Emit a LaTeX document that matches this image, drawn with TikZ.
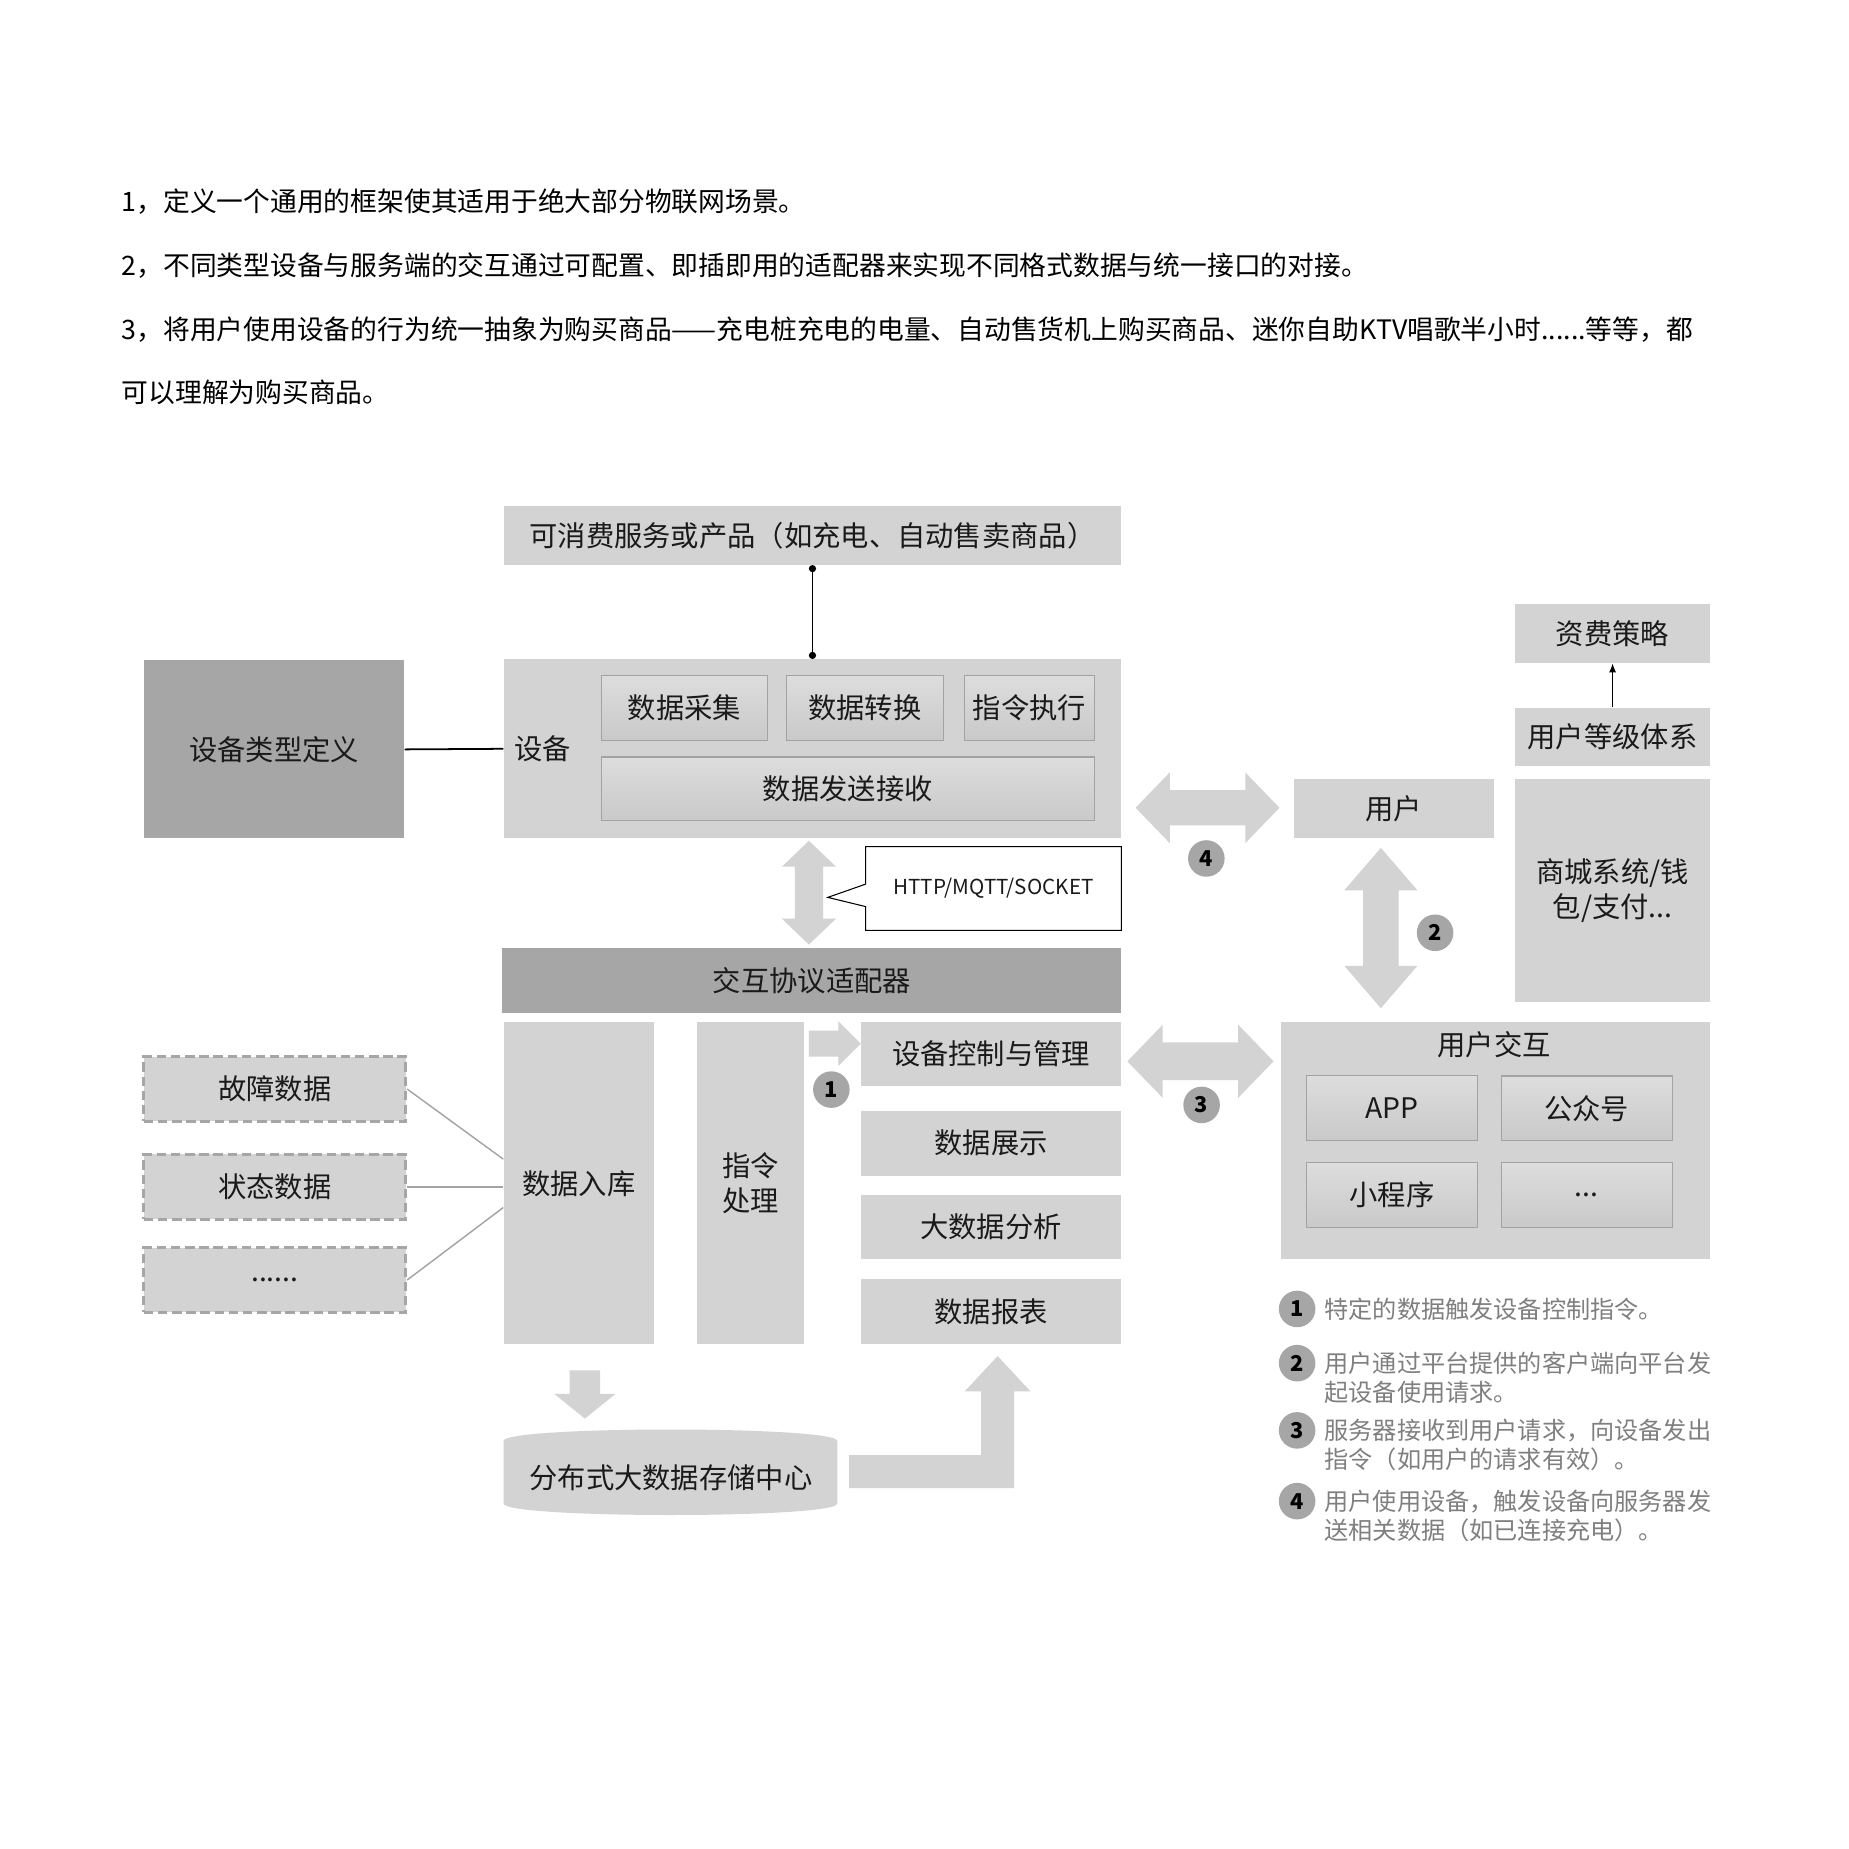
\documentclass[tikz,border=0pt]{standalone}
\usepackage{fontspec}
\setmainfont{Noto Sans CJK SC}
\definecolor{GrisBoite}{HTML}{D3D3D3}
\definecolor{GrisFonce}{HTML}{A6A6A6}
\definecolor{GrisTrait}{HTML}{A3A3A3}
\definecolor{GrisHaut}{HTML}{DDDDDD}
\definecolor{GrisBas}{HTML}{C9C9C9}
\definecolor{GrisLegende}{HTML}{7F7F7F}
\definecolor{NoirTexte}{HTML}{1A1A1A}
\usetikzlibrary{positioning}
\usetikzlibrary{calc}
\usetikzlibrary{arrows.meta}
\usetikzlibrary{shapes.callouts}

\begin{document}
\begin{tikzpicture}
	[x=1pt, y=-1pt,
	every node/.style = {inner sep=0pt, align=center, text=NoirTexte,
		font=\fontsize{24}{29.5}\selectfont},
	box/.style = {rectangle, fill=GrisBoite},
	darkbox/.style = {rectangle, fill=GrisFonce},
	subbox/.style = {rectangle, top color=GrisHaut, bottom color=GrisBas, draw=GrisTrait, line width=1},
	dashbox/.style = {rectangle, fill=GrisBoite, draw=GrisFonce, line width=2.5, dash pattern=on 8pt off 4pt},
	badge/.style = {circle, fill=GrisFonce, minimum size=31, text=black,
		font=\fontsize{18.5}{18.5}\selectfont\bfseries},
	legend/.style = {align=left, text=GrisLegende, font=\fontsize{20.5}{24.5}\selectfont},
	fatarrow/.style = {fill=GrisBoite}]
	\useasboundingbox (0,0) rectangle (1568,1568);
	\fill[white] (0,0) rectangle (1568,1568);

	\node[anchor=north west, align=left, text=black, font=\fontsize{22.7}{54}\selectfont] (intro) at (103,160)
	{1，定义一个通用的框架使其适用于绝大部分物联网场景。\\
	 2，不同类型设备与服务端的交互通过可配置、即插即用的适配器来实现不同格式数据与统一接口的对接。\\
	 3，将用户使用设备的行为统一抽象为购买商品——充电桩充电的电量、自动售货机上购买商品、迷你自助KTV唱歌半小时......等等，都\\
	 可以理解为购买商品。};

	% fat arrows
	\fill[fatarrow] (686,713) -- (709,735) -- (698,735) -- (698,779) -- (709,779) -- (686,801)
		-- (663,779) -- (674,779) -- (674,735) -- (663,735) -- cycle;
	\fill[fatarrow] (963,685) -- (992,655) -- (992,670) -- (1056,670) -- (1056,655) -- (1085,685)
		-- (1056,715) -- (1056,700) -- (992,700) -- (992,715) -- cycle;
	\fill[fatarrow] (956,900) -- (986,869) -- (986,884) -- (1050,884) -- (1050,869) -- (1080,900)
		-- (1050,931) -- (1050,916) -- (986,916) -- (986,931) -- cycle;
	\fill[fatarrow] (1171,719) -- (1202,755) -- (1186,755) -- (1186,819) -- (1202,819) -- (1171,855)
		-- (1140,819) -- (1156,819) -- (1156,755) -- (1140,755) -- cycle;
	\fill[fatarrow] (686,874) -- (711,874) -- (711,866) -- (730,885) -- (711,904) -- (711,896) -- (686,896) -- cycle;
	\fill[fatarrow] (483,1162) -- (509,1162) -- (509,1182) -- (522,1182) -- (496,1203) -- (470,1182) -- (483,1182) -- cycle;
	\fill[fatarrow] (720,1234) -- (832,1234) -- (832,1180) -- (818,1180) -- (846,1150) -- (874,1180)
		-- (860,1180) -- (860,1262) -- (720,1262) -- cycle;

	% device side
	\node[box, minimum width=524, minimum height=50] (prod) at (689,454) {可消费服务或产品（如充电、自动售卖商品）};
	\node[box, minimum width=524, minimum height=152] (dev) at (689,635) {};
	\node (devlabel) at (460,635) {设备};
	\node[subbox, minimum width=141, minimum height=55] (collect) at (580.5,600.5) {数据采集};
	\node[subbox, minimum width=133, minimum height=55] (convert) at (733.5,600.5) {数据转换};
	\node[subbox, minimum width=110, minimum height=55] (exec) at (873,600.5) {指令执行};
	\node[subbox, minimum width=418, minimum height=54] (sendrecv) at (719,669) {数据发送接收};
	\node[darkbox, minimum width=221, minimum height=151] (typedef) at (232.5,635.5) {设备类型定义};
	\draw[{Circle[length=6pt]}-{Circle[length=6pt]}, line width=1.6] (prod.south) -- (dev.north);
	\draw[line width=1.5] (typedef.east) -- (dev.west);

	\node[rectangle callout, draw=black, fill=white, line width=0.9, minimum width=217, minimum height=71,
		callout absolute pointer={(702,761)}, callout pointer width=19,
		font=\fontsize{17.5}{21}\selectfont] (proto) at (842.5,753.5) {HTTP/MQTT/SOCKET};

	% server side
	\node[darkbox, minimum width=525, minimum height=55] (adapter) at (688.5,831.5) {交互协议适配器};
	\node[box, minimum width=128, minimum height=273] (entry) at (491,1003.5) {数据入库};
	\node[box, minimum width=91, minimum height=273] (cmd) at (636.5,1003.5) {指令\\处理};
	\node[box, minimum width=221, minimum height=54] (ctrl) at (840.5,894) {设备控制与管理};
	\node[box, minimum width=221, minimum height=55] (show) at (840.5,969.5) {数据展示};
	\node[box, minimum width=221, minimum height=55] (analysis) at (840.5,1040.5) {大数据分析};
	\node[box, minimum width=221, minimum height=55] (report) at (840.5,1112.5) {数据报表};

	\node[dashbox, minimum width=222, minimum height=55] (fault) at (233,923.5) {故障数据};
	\node[dashbox, minimum width=222, minimum height=55] (status) at (233,1006.5) {状态数据};
	\node[dashbox, minimum width=222, minimum height=55] (more) at (233,1085.5) {......};
	\draw[GrisTrait, line width=1.2] (fault.east) -- ([yshift=20.5pt]entry.west);
	\draw[GrisTrait, line width=1.2] (status.east) -- (status.east -| entry.west);
	\draw[GrisTrait, line width=1.2] (more.east) -- ([yshift=-20.5pt]entry.west);

	\fill[GrisBoite] (427,1222) .. controls (427,1209) and (710,1209) .. (710,1222) -- (710,1275)
		.. controls (710,1288) and (427,1288) .. (427,1275) -- cycle;
	\node (storage) at (569,1253) {分布式大数据存储中心};

	% user side
	\node[box, minimum width=165, minimum height=50] (tariff) at (1367.5,537) {资费策略};
	\node[box, minimum width=165, minimum height=50] (level) at (1367.5,625) {用户等级体系};
	\node[box, minimum width=165, minimum height=189] (mall) at (1367.5,755.5) {商城系统/钱\\包/支付...};
	\draw[-{Latex[length=8pt,width=6pt]}, line width=1.5] (level.north) -- (tariff.south);
	\node[box, minimum width=170, minimum height=50] (user) at (1182,686) {用户};
	\node[box, minimum width=364, minimum height=201] (ui) at (1268,967.5) {};
	\node (uititle) at (1267,886) {用户交互};
	\node[subbox, minimum width=145, minimum height=55] (app) at (1180.5,939.5) {APP};
	\node[subbox, minimum width=145, minimum height=55] (wechat) at (1345.5,940) {公众号};
	\node[subbox, minimum width=145, minimum height=55] (mini) at (1180.5,1013.5) {小程序};
	\node[subbox, minimum width=145, minimum height=55] (etc) at (1345.5,1013.5) {...};

	\node[badge] (b1) at (705,924) {1};
	\node[badge] (b2) at (1217,791) {2};
	\node[badge] (b3) at (1019,937) {3};
	\node[badge] (b4) at (1023,728) {4};

	% legend
	\node[badge] (l1) at (1100,1110) {1};
	\node[badge] (l2) at (1100,1156) {2};
	\node[badge] (l3) at (1100,1213) {3};
	\node[badge] (l4) at (1100,1273) {4};
	\node[legend, anchor=north west] (t1) at (1123,1100.5) {特定的数据触发设备控制指令。};
	\node[legend, anchor=north west] (t2) at (1123,1146.5) {用户通过平台提供的客户端向平台发\\起设备使用请求。};
	\node[legend, anchor=north west] (t3) at (1123,1203.5) {服务器接收到用户请求，向设备发出\\指令（如用户的请求有效）。};
	\node[legend, anchor=north west] (t4) at (1123,1263.5) {用户使用设备，触发设备向服务器发\\送相关数据（如已连接充电）。};
\end{tikzpicture}
\end{document}
